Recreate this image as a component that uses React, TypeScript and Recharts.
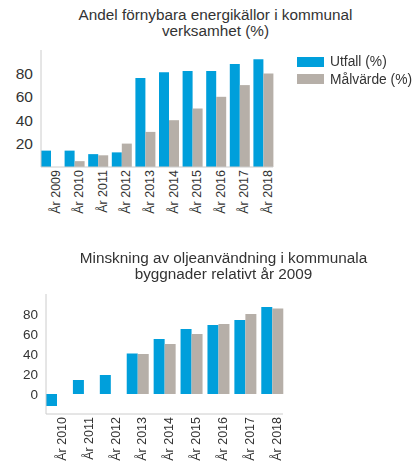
import React from 'react';
import { BarChart, Bar, XAxis, YAxis } from 'recharts';

// Chart 1: Andel förnybara energikällor
const years1 = ['År 2009', 'År 2010', 'År 2011', 'År 2012', 'År 2013', 'År 2014', 'År 2015', 'År 2016', 'År 2017', 'År 2018'];
const utfall1 = [14, 14, 11, 12.5, 76, 81, 82, 82, 88, 92];
const malvarde1 = [null, 5, 10, 20, 30, 40, 50, 60, 70, 80];
const ticks1 = [20, 40, 60, 80];

// Chart 2: Minskning av oljeanvändning
const years2 = ['År 2010', 'År 2011', 'År 2012', 'År 2013', 'År 2014', 'År 2015', 'År 2016', 'År 2017', 'År 2018'];
const utfall2 = [-12, 14, 19, 40.5, 55, 65, 69, 74, 87];
const malvarde2 = [null, null, null, 40, 50, 60, 70, 80, 85.5];
const ticks2 = [0, 20, 40, 60, 80];

const BLUE = '#009fdb';
const GRAY = '#b6afa8';
const TEXT = '#333333';
const AXIS = '#cccccc';
const FONT = '"Liberation Sans", Arial, sans-serif';

const data1 = years1.map((year, i) => ({ year, utfall: utfall1[i], malvarde: malvarde1[i] }));
const data2 = years2.map((year, i) => ({ year, utfall: utfall2[i], malvarde: malvarde2[i] }));

const Title = ({ lines, cx, top }: { lines: string[]; cx: number; top: number }) => (
  <div
    style={{
      position: 'absolute',
      left: cx - 200,
      width: 400,
      top,
      textAlign: 'center',
      fontFamily: FONT,
      fontSize: 15.3,
      lineHeight: '16.4px',
      color: TEXT,
    }}
  >
    {lines.map((l, i) => (
      <div key={i}>{l}</div>
    ))}
  </div>
);

const legendItems = [
  { label: 'Utfall (%)', color: BLUE },
  { label: 'Målvärde (%)', color: GRAY },
];

export default function App() {
  return (
    <div style={{ position: 'fixed', left: 0, top: 0, width: 412, height: 461, background: '#fff', fontFamily: FONT }}>
      <Title lines={['Andel förnybara energikällor i kommunal', 'verksamhet (%)']} cx={215.5} top={7} />

      <div style={{ position: 'absolute', left: 0, top: 0 }}>
        <BarChart
          width={412}
          height={230}
          data={data1}
          margin={{ top: 50, right: 139, bottom: 0, left: 0 }}
          barGap={0}
          barCategoryGap={2}
        >
          <YAxis
            width={41}
            domain={[0, 100]}
            ticks={ticks1}
            interval={0}
            axisLine={{ stroke: AXIS }}
            tickLine={false}
            tick={{ fill: TEXT, fontSize: 15.5, fontFamily: FONT }}
          />
          <XAxis
            dataKey="year"
            height={63}
            interval={0}
            padding={{ left: -2, right: -2 }}
            axisLine={{ stroke: AXIS }}
            tickLine={false}
            tickSize={0}
            tickMargin={3}
            angle={-90}
            textAnchor="end"
            tick={{ fill: TEXT, fontSize: 12.5, fontFamily: FONT }}
          />
          <Bar dataKey="utfall" fill={BLUE} isAnimationActive={false} />
          <Bar dataKey="malvarde" fill={GRAY} isAnimationActive={false} />
        </BarChart>
      </div>

      <div style={{ position: 'absolute', left: 297, top: 53, width: 115 }}>
        {legendItems.map((it) => (
          <div
            key={it.label}
            style={{ display: 'flex', alignItems: 'center', height: 17.5, fontSize: 13.8, color: TEXT, whiteSpace: 'nowrap' }}
          >
            <span style={{ display: 'inline-block', flex: 'none', width: 27, height: 10, background: it.color, marginRight: 6 }} />
            <span>{it.label}</span>
          </div>
        ))}
      </div>

      <Title lines={['Minskning av oljeanvändning i kommunala', 'byggnader relativt år 2009']} cx={223.5} top={250} />

      <div style={{ position: 'absolute', left: 0, top: 230 }}>
        <BarChart
          width={412}
          height={231}
          data={data2}
          margin={{ top: 64, right: 129, bottom: 0, left: 0 }}
          barGap={0}
          barCategoryGap={2.6}
        >
          <YAxis
            width={46}
            domain={[-20, 100]}
            ticks={ticks2}
            interval={0}
            axisLine={{ stroke: AXIS }}
            tickLine={false}
            tick={{ fill: TEXT, fontSize: 13.5, fontFamily: FONT }}
          />
          <XAxis
            dataKey="year"
            height={47}
            interval={0}
            padding={{ left: -2.6, right: -2.6 }}
            axisLine={{ stroke: AXIS }}
            tickLine={false}
            tickSize={0}
            tickMargin={3}
            angle={-90}
            textAnchor="end"
            tick={{ fill: TEXT, fontSize: 12.5, fontFamily: FONT }}
          />
          <Bar dataKey="utfall" fill={BLUE} isAnimationActive={false} />
          <Bar dataKey="malvarde" fill={GRAY} isAnimationActive={false} />
        </BarChart>
      </div>
    </div>
  );
}
